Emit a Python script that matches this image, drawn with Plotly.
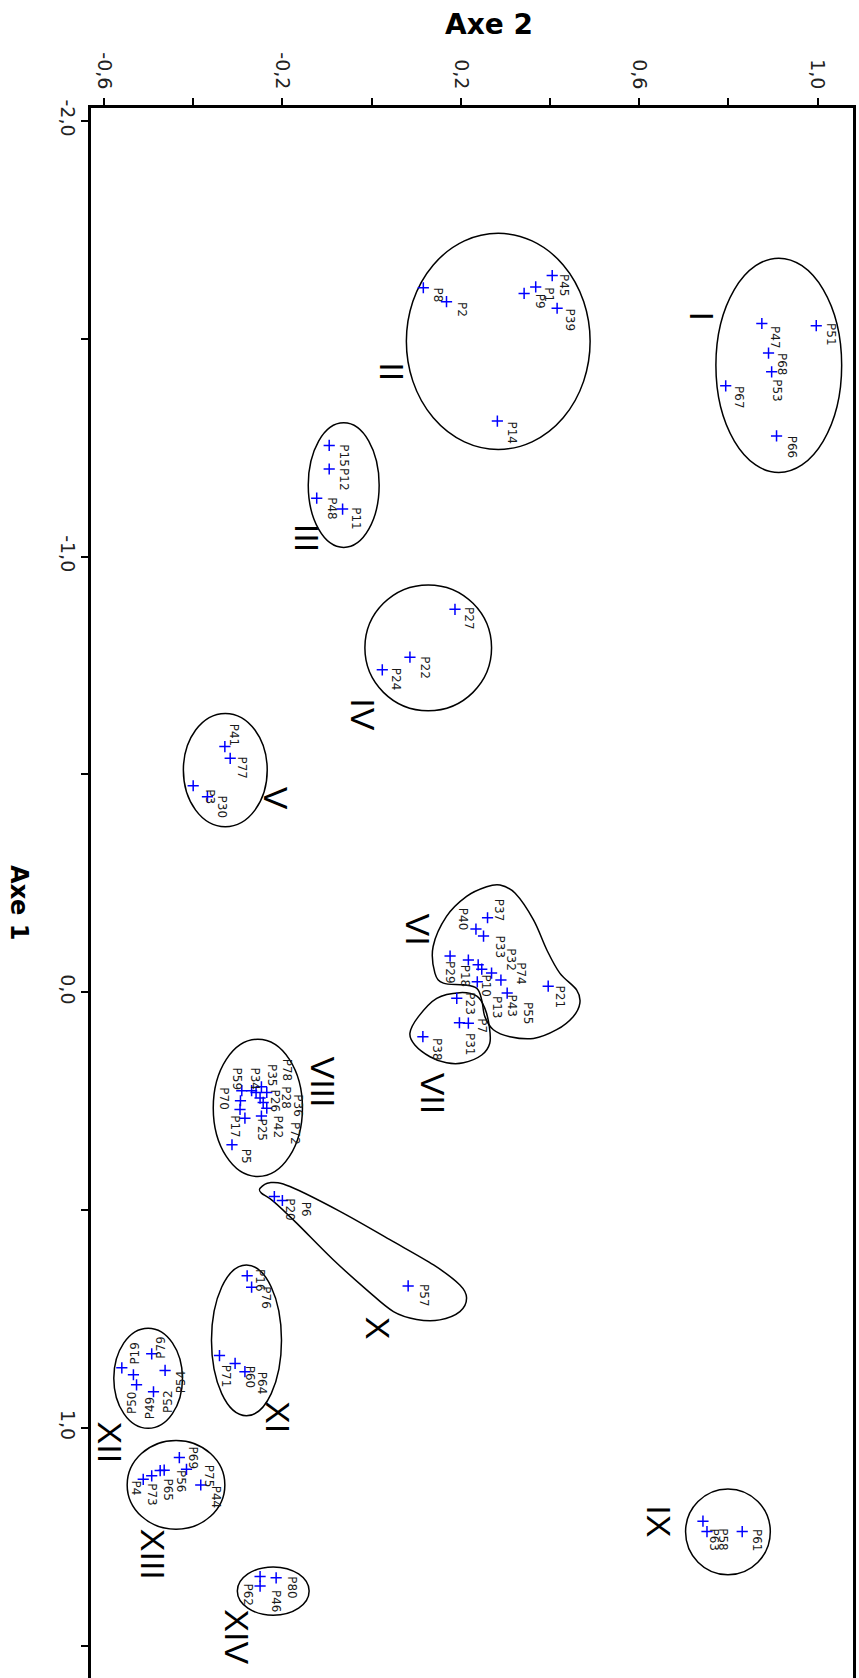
import plotly.graph_objects as go

# ---- individuals: label, coordinate on Axe 2 (horizontal) and Axe 1 (vertical) ----
labels = [
    "P51", "P47", "P68", "P53", "P67", "P66",
    "P45", "P1", "P9", "P39", "P8", "P2", "P14",
    "P15", "P12", "P48", "P11",
    "P27", "P22", "P24",
    "P41", "P77", "P3", "P30",
    "P37", "P40", "P33", "P29", "P18", "P32", "P10", "P74", "P43", "P13", "P21", "P55",
    "P23", "P31", "P7", "P38",
    "P59", "P34", "P35", "P78", "P36", "P28", "P26", "P70", "P17", "P72", "P42", "P25", "P5",
    "P20", "P6", "P57",
    "P16", "P76", "P71", "P60", "P64",
    "P79", "P19", "P52", "P54", "P50", "P49",
    "P69", "P75", "P56", "P65", "P73", "P4", "P44",
    "P80", "P62", "P46",
    "P63", "P58", "P61",
]
axe2 = [
    0.997, 0.875, 0.890, 0.897, 0.794, 0.908,
    0.405, 0.368, 0.342, 0.416, 0.116, 0.168, 0.282,
    -0.095, -0.095, -0.123, -0.065,
    0.187, 0.086, 0.024,
    -0.329, -0.317, -0.400, -0.368,
    0.260, 0.234, 0.251, 0.176, 0.217, 0.239, 0.247, 0.269, 0.290, 0.237, 0.396, 0.304,
    0.191, 0.197, 0.217, 0.115,
    -0.291, -0.269, -0.259, -0.247, -0.235, -0.250, -0.243, -0.294, -0.284, -0.235, -0.247, -0.295, -0.313,
    -0.218, -0.200, 0.082,
    -0.279, -0.269, -0.341, -0.306, -0.284,
    -0.493, -0.560, -0.534, -0.463, -0.527, -0.489,
    -0.431, -0.415, -0.465, -0.474, -0.493, -0.512, -0.383,
    -0.214, -0.250, -0.250,
    0.743, 0.752, 0.831,
]
axe1 = [
    -1.530, -1.535, -1.467, -1.424, -1.392, -1.277,
    -1.645, -1.619, -1.604, -1.570, -1.617, -1.585, -1.311,
    -1.255, -1.201, -1.134, -1.109,
    -0.879, -0.769, -0.740,
    -0.564, -0.537, -0.474, -0.449,
    -0.171, -0.145, -0.129, -0.083, -0.074, -0.063, -0.053, -0.044, -0.028, -0.024, -0.014, 0.002,
    0.014, 0.070, 0.071, 0.102,
    0.226, 0.226, 0.230, 0.217, 0.230, 0.243, 0.253, 0.249, 0.289, 0.266, 0.284, 0.269, 0.350,
    0.469, 0.478, 0.674,
    0.651, 0.677, 0.834, 0.852, 0.871,
    0.830, 0.862, 0.878, 0.868, 0.901, 0.917,
    1.068, 1.095, 1.097, 1.098, 1.110, 1.118, 1.131,
    1.344, 1.341, 1.363,
    1.214, 1.238, 1.238,
]

# ---- cluster outlines: ellipses (Axe 2 span, Axe 1 span) ----
ellipse_axe2_lo = [0.772, 0.078, -0.142, -0.015, -0.422, -0.355, -0.359, -0.578, -0.548, -0.301, 0.704]
ellipse_axe2_hi = [1.054, 0.490, 0.017, 0.269, -0.234, -0.155, -0.202, -0.424, -0.329, -0.140, 0.894]
ellipse_axe1_lo = [-1.685, -1.742, -1.307, -0.935, -0.640, 0.108, 0.626, 0.771, 1.029, 1.319, 1.140]
ellipse_axe1_hi = [-1.193, -1.246, -1.021, -0.646, -0.380, 0.423, 0.972, 1.001, 1.2325, 1.430, 1.337]

# ---- free-form cluster outlines (VI, VII, X) ----
group6_axe2 = [0.138, 0.168, 0.213, 0.258, 0.288, 0.322, 0.363, 0.393, 0.422, 0.460, 0.467,
               0.452, 0.415, 0.363, 0.310, 0.273, 0.254, 0.247, 0.236, 0.206, 0.161, 0.142]
group6_axe1 = [-0.105, -0.174, -0.220, -0.242, -0.246, -0.227, -0.166, -0.097, -0.044, -0.005, 0.025,
               0.056, 0.086, 0.106, 0.102, 0.086, 0.056, 0.018, -0.009, -0.017, -0.021, -0.044]
group7_axe2 = [0.086, 0.105, 0.146, 0.198, 0.236, 0.254, 0.264, 0.265, 0.247, 0.206, 0.168, 0.131, 0.097]
group7_axe1 = [0.094, 0.056, 0.014, 0.001, 0.009, 0.037, 0.079, 0.117, 0.144, 0.162, 0.162, 0.148, 0.121]
group10_axe2 = [-0.250, -0.228, -0.183, -0.071, 0.041, 0.139, 0.198, 0.213, 0.198, 0.153, 0.101,
                0.049, -0.011, -0.086, -0.168, -0.220, -0.247]
group10_axe1 = [0.450, 0.437, 0.446, 0.503, 0.568, 0.626, 0.672, 0.702, 0.733, 0.752, 0.751,
                0.733, 0.683, 0.614, 0.530, 0.480, 0.461]

# ---- cluster names ----
group_names = ["I", "II", "III", "IV", "V", "VI", "VII", "VIII", "IX", "X", "XI", "XII", "XIII", "XIV"]
group_name_axe2 = [0.740, 0.045, -0.146, -0.018, -0.214, 0.105, 0.138, -0.109, 0.644, 0.013, -0.210, -0.586, -0.490, -0.301]
group_name_axe1 = [-1.552, -1.424, -1.042, -0.639, -0.446, -0.143, 0.233, 0.207, 1.214, 0.771, 0.975, 1.034, 1.289, 1.479]

# ---- axis ticks ----
axe2_ticks = [-0.6, -0.4, -0.2, 0.0, 0.2, 0.4, 0.6, 0.8, 1.0]
axe2_ticktext = ["-0,6", "", "-0,2", "", "0,2", "", "0,6", "", "1,0"]
axe1_ticks = [-2.0, -1.5, -1.0, -0.5, 0.0, 0.5, 1.0, 1.5]
axe1_ticktext = ["-2,0", "", "-1,0", "", "0,0", "", "1,0", ""]

# label placement (pixel offset of the label centre from its marker, +y downward)
DEFAULT_NUDGE = (13, 10)
label_nudge = {
    "P51": (14.7, 9.3), "P47": (13.3, 13.7), "P68": (13.3, 11.7), "P53": (5, 19), "P67": (13.3, 11.3),
    "P66": (15, 11.3), "P45": (11.7, 10.3), "P1": (13.3, 7.3), "P9": (15.3, 7.7), "P39": (13.3, 11.7),
    "P8": (14.3, 7.3), "P2": (15, 7.7), "P14": (14.3, 12), "P15": (14, 10), "P12": (14.7, 11),
    "P48": (15, 10.7), "P11": (13.3, 10), "P27": (13.3, 9), "P22": (15, 11), "P24": (13.7, 10),
    "P41": (10, -11), "P77": (11.7, 10), "P3": (16, 10.7), "P30": (14.3, 10.7),
    "P37": (11.7, -7.7), "P40": (-12.7, -10), "P33": (16, 11), "P29": (-0.7, 16.3), "P18": (-3.3, 15.7),
    "P32": (33.3, -5), "P10": (3.3, 16.3), "P74": (30, 0.7), "P43": (10.7, 26), "P13": (19.3, 25.7),
    "P21": (11.7, 11.3), "P55": (21, 20), "P23": (13.3, 5), "P31": (10.7, 21.3), "P7": (13.3, 2.7),
    "P38": (14, 13.3), "P59": (-5, -11.3), "P34": (3.3, -11.3), "P35": (15.7, -16.7), "P78": (25, -16.7),
    "P36": (31.7, 13.3), "P28": (25, -0.7), "P26": (11.7, -1), "P70": (-17.3, -2.3), "P17": (-10, 9),
    "P72": (28.3, 25), "P42": (16.7, 10.7), "P25": (21.7, 20.7), "P5": (14, 12),
    "P20": (15.7, 12.7), "P6": (23, 8.7), "P57": (15.7, 10),
    "P16": (13.3, 4.7), "P76": (14.3, 11), "P71": (7.3, 21), "P60": (15, 13.3), "P64": (16.7, 11.7),
    "P79": (9, -6.7), "P19": (12.3, -14.3), "P52": (35, 26.7), "P54": (16.7, 11), "P50": (-4, 17.7),
    "P49": (-2.7, 15.7), "P69": (13.3, 0.7), "P75": (23.3, 7.3), "P56": (16.7, 11.7), "P65": (8.3, 19.3),
    "P73": (0, 19), "P4": (-7.3, 9), "P44": (15.3, 11.7), "P80": (15, 9.6), "P62": (-11.8, 18.2),
    "P46": (16, 15), "P63": (10.7, 19), "P58": (16, 8.6), "P61": (15, 8.6),
}
# labels of cluster XII are written the other way round
reversed_labels = {"P79", "P19", "P52", "P54", "P50", "P49"}


def closed_curve_path(xs, ys):
    """Smooth closed outline (Catmull-Rom through the given vertices) as an SVG path."""
    pts = list(zip(xs, ys))
    n = len(pts)
    d = f"M {pts[0][0]},{pts[0][1]}"
    for i in range(n):
        p0, p1, p2, p3 = pts[i - 1], pts[i], pts[(i + 1) % n], pts[(i + 2) % n]
        c1 = (p1[0] + (p2[0] - p0[0]) / 6, p1[1] + (p2[1] - p0[1]) / 6)
        c2 = (p2[0] - (p3[0] - p1[0]) / 6, p2[1] - (p3[1] - p1[1]) / 6)
        d += f" C {c1[0]},{c1[1]} {c2[0]},{c2[1]} {p2[0]},{p2[1]}"
    return d + " Z"


fig = go.Figure()

fig.add_trace(go.Scatter(
    x=axe2, y=axe1, mode="markers", text=labels, hoverinfo="text",
    marker=dict(symbol="cross-thin", size=8, line=dict(color="#0000ff", width=1.5)),
    cliponaxis=False,
))

outline = dict(color="black", width=1.5)
shapes = []
for x0, x1, y0, y1 in zip(ellipse_axe2_lo, ellipse_axe2_hi, ellipse_axe1_lo, ellipse_axe1_hi):
    shapes.append(dict(type="circle", xref="x", yref="y", x0=x0, x1=x1, y0=y0, y1=y1,
                       line=outline, layer="below"))
for gx, gy in [(group6_axe2, group6_axe1), (group7_axe2, group7_axe1), (group10_axe2, group10_axe1)]:
    shapes.append(dict(type="path", xref="x", yref="y", path=closed_curve_path(gx, gy),
                       line=outline, layer="below"))

annotations = []
label_font = dict(family="DejaVu Sans", size=12, color="#1a1a1a")
for name, x, y in zip(labels, axe2, axe1):
    dx, dy = label_nudge.get(name, DEFAULT_NUDGE)
    annotations.append(dict(
        x=x, y=y, xref="x", yref="y", text=name, showarrow=False,
        textangle=-90 if name in reversed_labels else 90,
        xanchor="center", yanchor="middle", xshift=dx, yshift=-dy, font=label_font,
    ))

for name, x, y in zip(group_names, group_name_axe2, group_name_axe1):
    annotations.append(dict(
        x=x, y=y, xref="x", yref="y", text=name, showarrow=False, textangle=90,
        xanchor="center", yanchor="middle",
        font=dict(family="Liberation Sans", size=34, color="black"),
    ))

title_font = dict(family="DejaVu Sans", color="black")
annotations.append(dict(
    x=0.5223, y=1.0535, xref="paper", yref="paper", text="<b>Axe 2</b>", showarrow=False,
    xanchor="center", yanchor="middle", font=dict(size=28, **title_font),
))
annotations.append(dict(
    x=-0.0945, y=0.4936, xref="paper", yref="paper", text="<b>Axe 1</b>", showarrow=False,
    textangle=90, xanchor="center", yanchor="middle", font=dict(size=24, **title_font),
))

tick_font = dict(family="DejaVu Sans", size=19, color="#222222")
fig.update_layout(
    width=859, height=1678,
    margin=dict(l=91, r=6, t=108, b=0),
    plot_bgcolor="white", paper_bgcolor="white",
    showlegend=False,
    shapes=shapes, annotations=annotations,
    xaxis=dict(
        range=[-0.6291, 1.0794], side="top", showgrid=False, zeroline=False,
        showline=True, linecolor="black", linewidth=3,
        ticks="outside", ticklen=7, tickwidth=2, tickcolor="black",
        tickvals=axe2_ticks, ticktext=axe2_ticktext, tickangle=90, tickfont=tick_font,
        ticklabelstandoff=2,
    ),
    yaxis=dict(
        range=[1.574, -2.0296], showgrid=False, zeroline=False,
        showline=True, mirror=True, linecolor="black", linewidth=3,
        ticks="outside", ticklen=7, tickwidth=2, tickcolor="black",
        tickvals=axe1_ticks, ticktext=axe1_ticktext, tickangle=90, tickfont=tick_font,
        ticklabelstandoff=-3,
    ),
)

fig.write_html("out.html")
